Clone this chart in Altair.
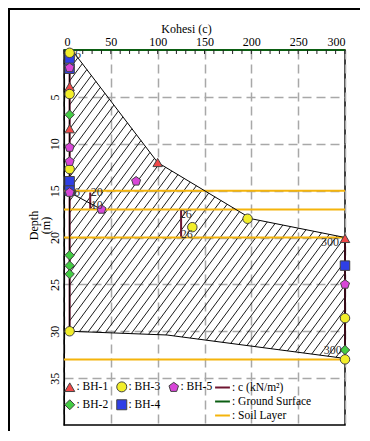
import altair as alt
import pandas as pd
import numpy as np

# ---------------- data ----------------
bh_names = ["BH-1", "BH-2", "BH-3", "BH-4", "BH-5"]
bh_fills = ["#f04848", "#44cc44", "#f2ee2a", "#2f3fe6", "#d846d8"]
bh_shapes = ["triangle-up", "diamond", "circle", "square",
             "M0,-1L0.951,-0.309L0.588,0.809L-0.588,0.809L-0.951,-0.309Z"]

bh1_c = [6, 6, 100, 300]
bh1_d = [3.9, 8.4, 12.0, 20.1]
bh2_c = [6, 6, 6, 6, 300]
bh2_d = [6.9, 21.9, 23.0, 23.9, 32.0]
bh3_c = [6, 6, 6, 137, 196, 6, 300, 300]
bh3_d = [0.3, 4.7, 12.7, 18.9, 18.0, 30.0, 28.6, 33.0]
bh4_c = [6, 6, 6, 6, 300]
bh4_d = [0.9, 2.0, 14.0, 15.0, 23.0]
bh5_c = [6, 6, 6, 77, 6, 40, 300]
bh5_d = [1.9, 10.4, 11.9, 14.0, 15.2, 17.0, 25.0]

# c (kN/m2) profile segments
c_x = [6, 28, 125, 300]
c_top = [0, 15.2, 17, 20]
c_bot = [30, 17, 20, 33]
soil_depths = [15, 17, 20, 33]
ground_depth = 0

# envelope polygon
poly_x = [10, 100, 200, 300, 300, 110, 6, 6]
poly_y = [0.2, 12, 18, 20, 32.9, 30.4, 30, 0.2]
link_x = [6, 40]
link_y = [15.2, 17.0]

ann_x = [15, 14, 35, 35, 130, 131, 284, 287]
ann_y = [0.4, 15.1, 15.1, 16.5, 17.5, 19.6, 20.5, 32.0]
ann_t = ["6", "6", "20", "10", "26", "26", "300", "300"]

kinds = ["c (kN/m²)", "Ground  Surface", "Soil Layer"]
kind_colors = ["#6e1530", "#0b5e12", "#f4b40c"]
kind_widths = [2, 2, 1.5]

W, H = 281, 375
XMAX, YMAX = 300, 40
FONT = "Liberation Serif"

# ---------------- frames ----------------
rows = []
for name, cs, ds in [("BH-4", bh4_c, bh4_d), ("BH-2", bh2_c, bh2_d),
                     ("BH-1", bh1_c, bh1_d), ("BH-3", bh3_c, bh3_d),
                     ("BH-5", bh5_c, bh5_d)]:
    for c, d in zip(cs, ds):
        rows.append({"bh": name, "x": c, "y": d})
pts_df = pd.DataFrame(rows)

lines = []
for c, t, b in zip(c_x, c_top, c_bot):
    lines.append({"kind": kinds[0], "x": c, "x2": c, "y": t, "y2": b})
lines.append({"kind": kinds[1], "x": 0, "x2": XMAX, "y": ground_depth, "y2": ground_depth})
for d in soil_depths:
    lines.append({"kind": kinds[2], "x": 0, "x2": XMAX, "y": d, "y2": d})
lines_df = pd.DataFrame(lines)

# hatch lines clipped to the polygon (computed in pixel-equivalent space)
kx, ky = W / XMAX, H / YMAX
slope = 1.35
px = np.array(poly_x) * kx
py = np.array(poly_y) * ky
vals = px * slope + py
segs = []
n = len(px)
for cval in np.arange(vals.min() + 5, vals.max(), 12.0):
    hits = []
    for i in range(n):
        x1, y1 = px[i], py[i]
        x2, y2 = px[(i + 1) % n], py[(i + 1) % n]
        f1 = x1 * slope + y1 - cval
        f2 = x2 * slope + y2 - cval
        if (f1 < 0) != (f2 < 0):
            t = f1 / (f1 - f2)
            hits.append((x1 + t * (x2 - x1), y1 + t * (y2 - y1)))
    hits.sort()
    for j in range(0, len(hits) - 1, 2):
        (ax, ay), (bx, by) = hits[j], hits[j + 1]
        segs.append({"x": ax / kx, "y": ay / ky, "x2": bx / kx, "y2": by / ky})
hatch_df = pd.DataFrame(segs)

outline_df = pd.DataFrame({"x": poly_x + [poly_x[0]], "y": poly_y + [poly_y[0]],
                           "o": list(range(len(poly_x) + 1))})
link_df = pd.DataFrame({"x": link_x, "y": link_y, "o": [0, 1]})
ann_df = pd.DataFrame({"x": ann_x, "y": ann_y, "t": ann_t})
minor_df = pd.DataFrame({"x": list(range(0, XMAX + 1, 10))})

# ---------------- scales / axes ----------------
xscale = alt.Scale(domain=[0, XMAX], nice=False, zero=False)
yscale = alt.Scale(domain=[0, YMAX], reverse=True, nice=False, zero=False)

xaxis = alt.Axis(orient="top", values=list(range(0, 301, 50)), title="Kohesi (c)",
                 ticks=False, labelFont=FONT, labelFontSize=12, labelPadding=2,
                 titleFont=FONT, titleFontSize=12, titleFontWeight="normal",
                 titleX=122, titleY=-22, titleBaseline="middle",
                 domainColor="#0b5e12", grid=True, gridDash=[9, 5],
                 gridColor="#a8a8a8", gridWidth=1.5, labelColor="black",
                 titleColor="black")
yaxis = alt.Axis(orient="left", values=list(range(5, 40, 5)), title=["Depth", "(m)"],
                 ticks=False, labelFont=FONT, labelFontSize=12, labelAngle=270,
                 labelAlign="center", labelBaseline="bottom", labelPadding=3,
                 titleFont=FONT, titleFontSize=12, titleFontWeight="normal",
                 titleX=-24, titleY=175, titleAngle=270, titleBaseline="bottom",
                 titleLineHeight=12, titleColor="black",
                 domainColor="black", grid=True, gridDash=[9, 5],
                 gridColor="#a8a8a8", gridWidth=1.5, labelColor="black")


def X(f="x"):
    return alt.X(f"{f}:Q", scale=xscale, axis=xaxis)


def Y(f="y"):
    return alt.Y(f"{f}:Q", scale=yscale, axis=yaxis)


hatch = alt.Chart(hatch_df).mark_rule(color="black", strokeWidth=0.9).encode(
    x=X(), y=Y(), x2="x2:Q", y2="y2:Q")

outline = alt.Chart(outline_df).mark_line(color="black", strokeWidth=1).encode(
    x=X(), y=Y(), order="o:Q")
link = alt.Chart(link_df).mark_line(color="black", strokeWidth=1).encode(
    x=X(), y=Y(), order="o:Q")

rules = alt.Chart(lines_df).mark_rule().encode(
    x=X(), y=Y(), x2="x2:Q", y2="y2:Q",
    stroke=alt.Stroke("kind:N", scale=alt.Scale(domain=kinds, range=kind_colors),
                      legend=alt.Legend(orient="none", legendX=150, legendY=329,
                                        title=None, symbolType="stroke",
                                        symbolSize=220, symbolStrokeWidth=1.5,
                                        labelExpr="': ' + datum.label",
                                        labelFont=FONT, labelFontSize=11.5,
                                        labelColor="black", rowPadding=0,
                                        labelOffset=1)),
    strokeWidth=alt.StrokeWidth("kind:N", scale=alt.Scale(domain=kinds, range=kind_widths),
                                legend=None))

minor = alt.Chart(minor_df).mark_rule(color="#222", strokeWidth=1).encode(
    x=X(), y=alt.value(0), y2=alt.value(4))

points = alt.Chart(pts_df).mark_point(filled=True, opacity=1, stroke="#444",
                                      strokeWidth=1, size=90).encode(
    x=X(), y=Y(),
    fill=alt.Fill("bh:N", scale=alt.Scale(domain=bh_names, range=bh_fills),
                  legend=alt.Legend(orient="none", legendX=0, legendY=331, title=None,
                                    columns=3, labelExpr="': ' + datum.label",
                                    labelFont=FONT, labelFontSize=11.5,
                                    labelColor="black", symbolSize=100,
                                    symbolStrokeColor="#444", symbolStrokeWidth=1,
                                    rowPadding=3, columnPadding=5, labelOffset=1)),
    shape=alt.Shape("bh:N", scale=alt.Scale(domain=bh_names, range=bh_shapes)))

ann = alt.Chart(ann_df).mark_text(font=FONT, fontSize=12, fill="#333",
                                  align="center", baseline="middle").encode(
    x=X(), y=Y(), text="t:N")

frame = alt.Chart(pd.DataFrame({"a": [0]})).mark_rect(
    fillOpacity=0, stroke="black", strokeWidth=2).encode(
    x=alt.value(-55), x2=alt.value(W + 40), y=alt.value(-41), y2=alt.value(H + 40))

chart = alt.layer(hatch, rules, outline, link, minor, points, ann, frame).properties(
    width=W, height=H,
    padding={"left": 56, "top": 42, "right": 15, "bottom": 6},
    autosize=alt.AutoSizeParams(type="none"),
).configure_view(stroke="black", strokeWidth=1.5)

chart.save("out.html", embed_options={"renderer": "svg", "actions": False})
